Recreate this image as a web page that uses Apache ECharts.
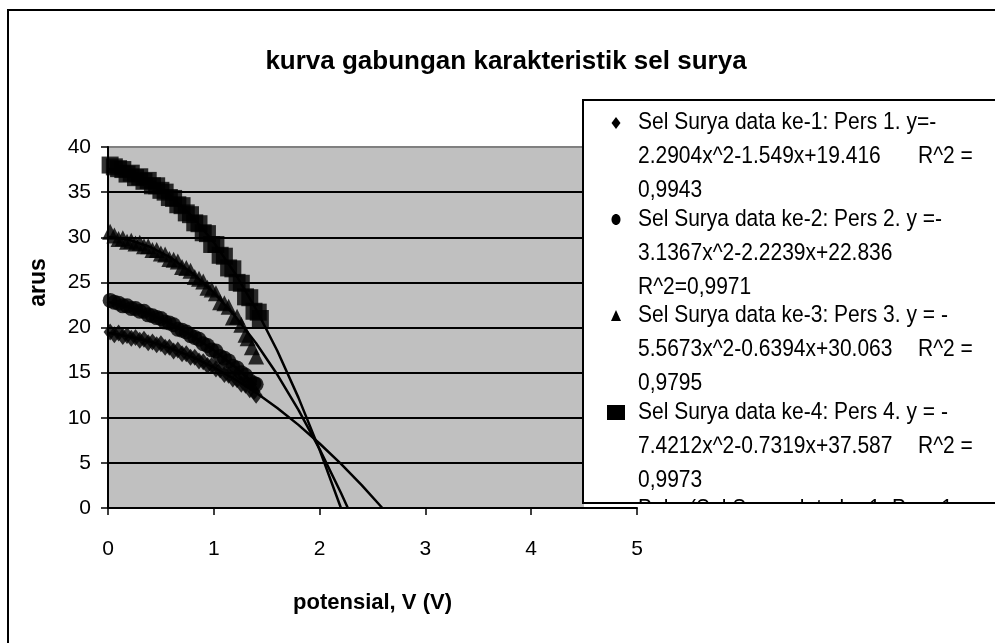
<!DOCTYPE html>
<html>
<head>
<meta charset="utf-8">
<script src="https://cdn.jsdelivr.net/npm/echarts@6/dist/echarts.min.js"></script>
<style>
html,body{margin:0;padding:0;background:#fff;}
#chart{width:995px;height:643px;}
</style>
</head>
<body>
<div id="chart"></div>
<script>
// ---- data ----
const titleText = 'kurva gabungan karakteristik sel surya';
const xTitle = 'potensial, V (V)';
const yTitle = 'arus';
const xTicks = [0, 1, 2, 3, 4, 5];
const yTicks = [0, 5, 10, 15, 20, 25, 30, 35, 40];

const seriesNames = [
  'Sel Surya data ke-1: Pers 1. y=-2.2904x^2-1.549x+19.416 R^2 = 0,9943',
  'Sel Surya data ke-2: Pers 2. y =-3.1367x^2-2.2239x+22.836 R^2=0,9971',
  'Sel Surya data ke-3: Pers 3. y = -5.5673x^2-0.6394x+30.063 R^2 = 0,9795',
  'Sel Surya data ke-4: Pers 4. y = -7.4212x^2-0.7319x+37.587 R^2 = 0,9973'
];

const voltage1 = [0.02,0.06,0.10,0.14,0.18,0.22,0.26,0.30,0.34,0.38,0.42,0.46,0.50,0.54,0.58,0.62,0.66,0.70,0.74,0.78,0.82,0.86,0.90,0.94,0.98,1.02,1.06,1.10,1.14,1.18,1.22,1.26,1.30,1.34,1.38,1.40];
const current1 = [19.5,19.2,19.4,19.0,19.1,18.8,18.9,18.6,18.7,18.3,18.4,18.1,18.2,17.8,17.8,17.4,17.5,17.1,17.1,16.7,16.7,16.3,16.2,15.8,15.8,15.4,15.3,14.8,14.7,14.3,14.2,13.7,13.6,13.1,12.9,12.5];

const voltage2 = [0.02,0.06,0.10,0.14,0.18,0.22,0.26,0.30,0.34,0.38,0.42,0.46,0.50,0.54,0.58,0.62,0.66,0.70,0.74,0.78,0.82,0.86,0.90,0.94,0.98,1.02,1.06,1.10,1.14,1.18,1.22,1.26,1.30,1.34,1.38,1.40];
const current2 = [23.0,22.8,22.7,22.4,22.4,22.1,22.1,21.8,21.8,21.4,21.3,21.1,21.0,20.6,20.5,20.3,19.8,19.7,19.5,19.1,18.9,18.7,18.2,18.0,17.5,17.4,16.8,16.6,16.3,15.7,15.5,15.0,14.7,14.1,13.8,13.7];

const voltage3 = [0.02,0.06,0.10,0.14,0.18,0.22,0.26,0.30,0.34,0.38,0.42,0.46,0.50,0.54,0.58,0.62,0.66,0.70,0.74,0.78,0.82,0.86,0.90,0.94,0.98,1.02,1.06,1.10,1.14,1.18,1.22,1.26,1.30,1.32,1.36,1.40];
const current3 = [30.6,30.2,29.8,29.9,29.5,29.6,29.3,29.4,29.0,29.0,28.6,28.6,28.2,28.1,27.6,27.5,27.3,26.7,26.6,26.3,25.6,25.4,25.1,24.4,24.2,23.8,22.8,22.7,22.3,21.1,21.2,20.3,19.2,18.8,17.8,16.8];

const voltage4 = [0.02,0.06,0.10,0.14,0.18,0.22,0.26,0.30,0.34,0.38,0.42,0.46,0.50,0.54,0.58,0.62,0.66,0.70,0.74,0.78,0.82,0.86,0.90,0.94,0.98,1.02,1.06,1.10,1.14,1.18,1.22,1.26,1.30,1.34,1.38,1.42,1.44];
const current4 = [38.0,37.8,37.6,37.5,37.0,37.1,36.6,36.7,36.2,36.3,35.7,35.7,35.2,35.0,34.4,34.3,33.6,33.5,32.7,32.5,31.6,31.5,30.5,30.4,29.2,29.2,28.0,27.9,26.6,26.5,25.0,24.9,23.4,23.3,21.8,21.7,21.0];

// polynomial trend lines
const trendV1 = [0,0.2,0.4,0.6,0.8,1.0,1.2,1.4,1.6,1.8,2.0,2.2,2.4,2.593];
const trendI1 = [19.42,19.01,18.43,17.66,16.71,15.58,14.26,12.76,11.07,9.21,7.15,4.92,2.51,0];
const trendV2 = [0,0.2,0.4,0.6,0.8,1.0,1.2,1.4];
const trendI2 = [22.84,22.27,21.44,20.37,19.05,17.48,15.65,13.57];
const trendV3 = [0,0.2,0.4,0.6,0.8,1.0,1.2,1.4,1.6,1.8,2.0,2.2,2.267];
const trendI3 = [30.06,29.71,28.92,27.68,25.99,23.86,21.28,18.26,14.79,10.87,6.52,1.71,0];
const trendV4 = [0,0.2,0.4,0.6,0.8,1.0,1.2,1.4,1.6,1.8,2.0,2.2,2.202];
const trendI4 = [37.59,37.14,36.11,34.48,32.25,29.43,26.02,22.02,17.42,12.23,6.44,0.06,0];

const legendLines = [
  ['Sel Surya data ke-1: Pers 1. y=-', '2.2904x^2-1.549x+19.416', 'R^2 =', '0,9943'],
  ['Sel Surya data ke-2: Pers 2. y =-', '3.1367x^2-2.2239x+22.836', '', 'R^2=0,9971'],
  ['Sel Surya data ke-3: Pers 3. y = -', '5.5673x^2-0.6394x+30.063', 'R^2 =', '0,9795'],
  ['Sel Surya data ke-4: Pers 4. y = -', '7.4212x^2-0.7319x+37.587', 'R^2 =', '0,9973']
];
const legendCut = 'Poly. (Sel Surya data ke-1: Pers 1. y=-';

// ---- build ----
const FONT = "'Liberation Sans', Arial, Helvetica, sans-serif";
const zip = (a, b) => a.map((v, i) => [v, b[i]]);
const symbols = ['diamond', 'circle', 'triangle', 'rect'];
const symSizes = [[13, 17], 15, 16, 17];
const volts = [voltage1, voltage2, voltage3, voltage4];
const currs = [current1, current2, current3, current4];
const tV = [trendV1, trendV2, trendV3, trendV4];
const tI = [trendI1, trendI2, trendI3, trendI4];

const series = [];
for (let k = 0; k < 4; k++) {
  series.push({
    name: 'Poly. (' + seriesNames[k] + ')',
    type: 'line', data: zip(tV[k], tI[k]), showSymbol: false, symbol: 'none',
    lineStyle: { color: '#000', width: 2.5 }, z: 2, silent: true, clip: true
  });
}
for (let k = 0; k < 4; k++) {
  series.push({
    name: seriesNames[k], type: 'scatter', data: zip(volts[k], currs[k]),
    symbol: symbols[k], symbolSize: symSizes[k],
    itemStyle: { color: '#000' }, z: 3
  });
}

// legend drawn as graphic (Excel-like wrapped legend, clipped at the bottom)
const LX = 583, LY = 100, LB = 503;
const firstLine = 123, within = 34, period = 96.5;
const textX = 638, iconX = 616;
const graphics = [];
graphics.push({ type: 'rect', shape: { x: 8, y: 10, width: 1100, height: 800 },
  style: { fill: 'none', stroke: '#000', lineWidth: 2 }, z: 1 });
graphics.push({ type: 'rect', shape: { x: LX, y: LY, width: 600, height: LB - LY },
  style: { fill: '#fff', stroke: 'none' }, z: 99 });
const txt = (s, x, y) => ({ type: 'text', x: x, y: y, z: 100, scaleY: 1.12,
  style: { text: s, fill: '#000', font: '21px ' + FONT, textVerticalAlign: 'middle', verticalAlign: 'middle' } });
for (let k = 0; k < 4; k++) {
  const y0 = firstLine + k * period;
  const L = legendLines[k];
  graphics.push(txt(L[0], textX, y0));
  graphics.push(txt(L[1], textX, y0 + within));
  if (L[2]) graphics.push(txt(L[2], 918, y0 + within));
  graphics.push(txt(L[3], textX, y0 + 2 * within));
  let icon;
  if (k === 0) icon = { type: 'polygon', shape: { points: [[iconX, y0 - 6], [iconX + 4.5, y0], [iconX, y0 + 6], [iconX - 4.5, y0]] } };
  if (k === 1) icon = { type: 'ellipse', shape: { cx: iconX, cy: y0, rx: 4.5, ry: 5.5 } };
  if (k === 2) icon = { type: 'polygon', shape: { points: [[iconX, y0 - 6], [iconX + 5, y0 + 5], [iconX - 5, y0 + 5]] } };
  if (k === 3) icon = { type: 'rect', shape: { x: iconX - 9, y: y0 - 7.5, width: 18, height: 15 } };
  icon.style = { fill: '#000' }; icon.z = 100;
  graphics.push(icon);
}
graphics.push(txt(legendCut, textX, 510));
graphics.push({ type: 'rect', shape: { x: LX + 1, y: LB, width: 600, height: 25 },
  style: { fill: '#fff', stroke: 'none' }, z: 101 });
graphics.push({ type: 'rect', shape: { x: LX, y: LY, width: 600, height: LB - LY },
  style: { fill: 'none', stroke: '#000', lineWidth: 2 }, z: 102 });

const chart = echarts.init(document.getElementById('chart'), null, { renderer: 'canvas' });
chart.setOption({
  animation: false,
  backgroundColor: '#fff',
  textStyle: { fontFamily: FONT },
  title: {
    text: titleText, left: 501, top: 44, textAlign: 'center',
    textStyle: { fontFamily: FONT, fontSize: 26, fontWeight: 'bold', color: '#000' }
  },
  grid: { left: 108, right: 358, top: 147, bottom: 135, show: true,
    backgroundColor: '#C0C0C0', borderWidth: 0 },
  xAxis: {
    type: 'value', min: xTicks[0], max: xTicks[xTicks.length - 1], interval: 1, z: 200,
    name: xTitle, nameLocation: 'middle', nameGap: 84,
    nameTextStyle: { fontFamily: FONT, fontSize: 22, fontWeight: 'bold', color: '#000' },
    axisLine: { onZero: false, lineStyle: { color: '#000', width: 2 } },
    axisTick: { show: true, inside: false, length: 7, lineStyle: { color: '#000', width: 1.5 } },
    axisLabel: { fontFamily: FONT, fontSize: 21, color: '#000', margin: 31 },
    splitLine: { show: false }
  },
  yAxis: {
    type: 'value', min: yTicks[0], max: yTicks[yTicks.length - 1], interval: 5,
    name: yTitle, nameLocation: 'middle', nameGap: 58, nameRotate: 90,
    nameTextStyle: { fontFamily: FONT, fontSize: 23, fontWeight: 'bold', color: '#000', padding: [0, 0, 0, 90] },
    axisLine: { show: true, lineStyle: { color: '#000', width: 2 } },
    axisTick: { show: true, inside: false, length: 7, lineStyle: { color: '#000', width: 1.5 } },
    axisLabel: { fontFamily: FONT, fontSize: 21, color: '#000', margin: 17 },
    splitLine: { show: true, lineStyle: { color: ['#000','#000','#000','#000','#000','#000','#000','#000','#808080'], width: 2 } }
  },
  graphic: { elements: graphics },
  series: series
});
</script>
</body>
</html>
